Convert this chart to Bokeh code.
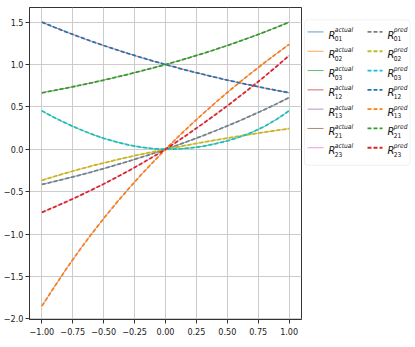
from bokeh.plotting import figure
from bokeh.layouts import row
from bokeh.models import Range1d, FixedTicker, BoxAnnotation, CustomJSTickFormatter
from bokeh.core.properties import value
from bokeh.embed import file_html
from bokeh.resources import INLINE

# ---------------- data ----------------
x = [-1.0, -0.9, -0.8, -0.7, -0.6, -0.5, -0.4, -0.3, -0.2, -0.1, 0.0,
     0.1, 0.2, 0.3, 0.4, 0.5, 0.6, 0.7, 0.8, 0.9, 1.0]

r01 = [-0.415, -0.380, -0.344, -0.307, -0.268, -0.227, -0.185, -0.142, -0.096, -0.049, 0.0,
       0.051, 0.104, 0.159, 0.216, 0.276, 0.337, 0.402, 0.468, 0.538, 0.610]
r02 = [-0.367, -0.321, -0.278, -0.237, -0.198, -0.161, -0.126, -0.092, -0.060, -0.030, 0.0,
       0.028, 0.056, 0.082, 0.108, 0.132, 0.156, 0.179, 0.202, 0.223, 0.244]
r03 = [0.454, 0.375, 0.304, 0.239, 0.181, 0.130, 0.087, 0.052, 0.025, 0.007, 0.0,
       0.004, 0.015, 0.035, 0.065, 0.100, 0.145, 0.200, 0.270, 0.355, 0.454]
r12 = [1.5, 1.4404, 1.3832, 1.3282, 1.2754, 1.2247, 1.1761, 1.1294, 1.0845, 1.0414, 1.0,
       0.9603, 0.9221, 0.8855, 0.8503, 0.8165, 0.7841, 0.7529, 0.7230, 0.6943, 0.6667]
r13 = [-1.850, -1.625, -1.406, -1.199, -1.002, -0.816, -0.638, -0.468, -0.305, -0.150, 0.0,
       0.144, 0.282, 0.416, 0.545, 0.670, 0.791, 0.908, 1.021, 1.131, 1.238]
r21 = [0.6667, 0.6943, 0.7230, 0.7529, 0.7841, 0.8165, 0.8503, 0.8855, 0.9221, 0.9603, 1.0,
       1.0414, 1.0845, 1.1294, 1.1761, 1.2247, 1.2754, 1.3282, 1.3832, 1.4404, 1.5]
r23 = [-0.744, -0.682, -0.618, -0.551, -0.481, -0.409, -0.333, -0.255, -0.173, -0.088, 0.0,
       0.097, 0.197, 0.300, 0.405, 0.513, 0.625, 0.740, 0.858, 0.980, 1.106]

keys = ["01", "02", "03", "12", "13", "21", "23"]
series = [r01, r02, r03, r12, r13, r21, r23]

x_ticks = [-1.0, -0.75, -0.5, -0.25, 0.0, 0.25, 0.5, 0.75, 1.0]
x_tick_labels = ["\u22121.00", "\u22120.75", "\u22120.50", "\u22120.25", "0.00", "0.25", "0.50", "0.75", "1.00"]
y_ticks = [-2.0, -1.5, -1.0, -0.5, 0.0, 0.5, 1.0, 1.5]
y_tick_labels = ["\u22122.0", "\u22121.5", "\u22121.0", "\u22120.5", "0.0", "0.5", "1.0", "1.5"]

actual_colors = ["#1f77b4", "#ff7f0e", "#2ca02c", "#d62728", "#9467bd", "#8c564b", "#e377c2"]
pred_colors = ["#7f7f7f", "#bcbd22", "#17becf", "#1f77b4", "#ff7f0e", "#2ca02c", "#d62728"]

FONT = "DejaVu Sans Condensed"
DARK = "#333333"
H = 341

# ---------------- main plot ----------------
p = figure(width=302, height=H,
           x_range=Range1d(-1.1, 1.1), y_range=Range1d(-2.008, 1.673),
           output_backend="svg", toolbar_location=None,
           min_border_left=29, min_border_right=1, min_border_top=7, min_border_bottom=22)
p.background_fill_color = "white"
p.border_fill_color = "white"
p.outline_line_color = DARK
p.outline_line_width = 1

p.xaxis.ticker = FixedTicker(ticks=x_ticks)
p.yaxis.ticker = FixedTicker(ticks=y_ticks)
p.xaxis.formatter = CustomJSTickFormatter(args=dict(labels=x_tick_labels), code="return labels[index]")
p.yaxis.formatter = CustomJSTickFormatter(args=dict(labels=y_tick_labels), code="return labels[index]")

for ax in (p.xaxis, p.yaxis):
    ax.axis_line_color = DARK
    ax.major_tick_line_color = DARK
    ax.major_tick_out = 4
    ax.major_tick_in = 0
    ax.minor_tick_line_color = None
    ax.major_label_text_font = FONT
    ax.major_label_text_font_size = "9px"
    ax.major_label_text_color = "#222222"
p.xaxis.major_label_standoff = 4
p.yaxis.major_label_standoff = 2

p.grid.grid_line_color = "#cccccc"
p.grid.grid_line_width = 1

for s, c in zip(series, actual_colors):
    p.line(x, s, line_color=c, line_width=1, line_alpha=0.7)
for s, c in zip(series, pred_colors):
    p.line(x, s, line_color=c, line_width=1.8, line_dash="4 2")

# ---------------- legend panel ----------------
leg = figure(width=112, height=H,
             x_range=Range1d(302, 414), y_range=Range1d(H, 0),
             output_backend="svg", toolbar_location=None,
             x_axis_type=None, y_axis_type=None, min_border=0)
leg.outline_line_color = None
leg.background_fill_color = "white"
leg.border_fill_color = "white"

leg.add_layout(BoxAnnotation(left=304, right=409.5, top=13.5, bottom=172.5,
                             fill_color="white", fill_alpha=1.0, level="underlay",
                             line_color="#d0d0d0", line_width=1, border_radius=3))

row_y = [26.7 + 21.1 * i for i in range(len(keys))]
n = len(keys)

leg.segment(x0=[307] * n, x1=[323] * n, y0=row_y, y1=row_y,
            line_color=actual_colors, line_width=1, line_alpha=0.7)
leg.segment(x0=[367] * n, x1=[382] * n, y0=row_y, y1=row_y,
            line_color=pred_colors, line_width=1.8, line_dash="4 2")

for xr, sup in ((328.0, "actual"), (387.0, "pred")):
    leg.text(x=[xr] * n, y=[yy + 3.4 for yy in row_y], text=["R"] * n,
             text_font=value(FONT), text_font_style="italic", text_font_size="11px",
             text_baseline="alphabetic", text_align="left", text_color="#111111")
    leg.text(x=[xr + 6.3] * n, y=[yy - 1.7 for yy in row_y], text=[sup] * n,
             text_font=value(FONT), text_font_style="italic", text_font_size="6.6px",
             text_baseline="alphabetic", text_align="left", text_color="#111111")
    leg.text(x=[xr + 6.3] * n, y=[yy + 7.4 for yy in row_y], text=keys,
             text_font=value(FONT), text_font_size="6.6px",
             text_baseline="alphabetic", text_align="left", text_color="#111111")

layout = row(p, leg)

open("out.html", "w").write(file_html(layout, INLINE))
